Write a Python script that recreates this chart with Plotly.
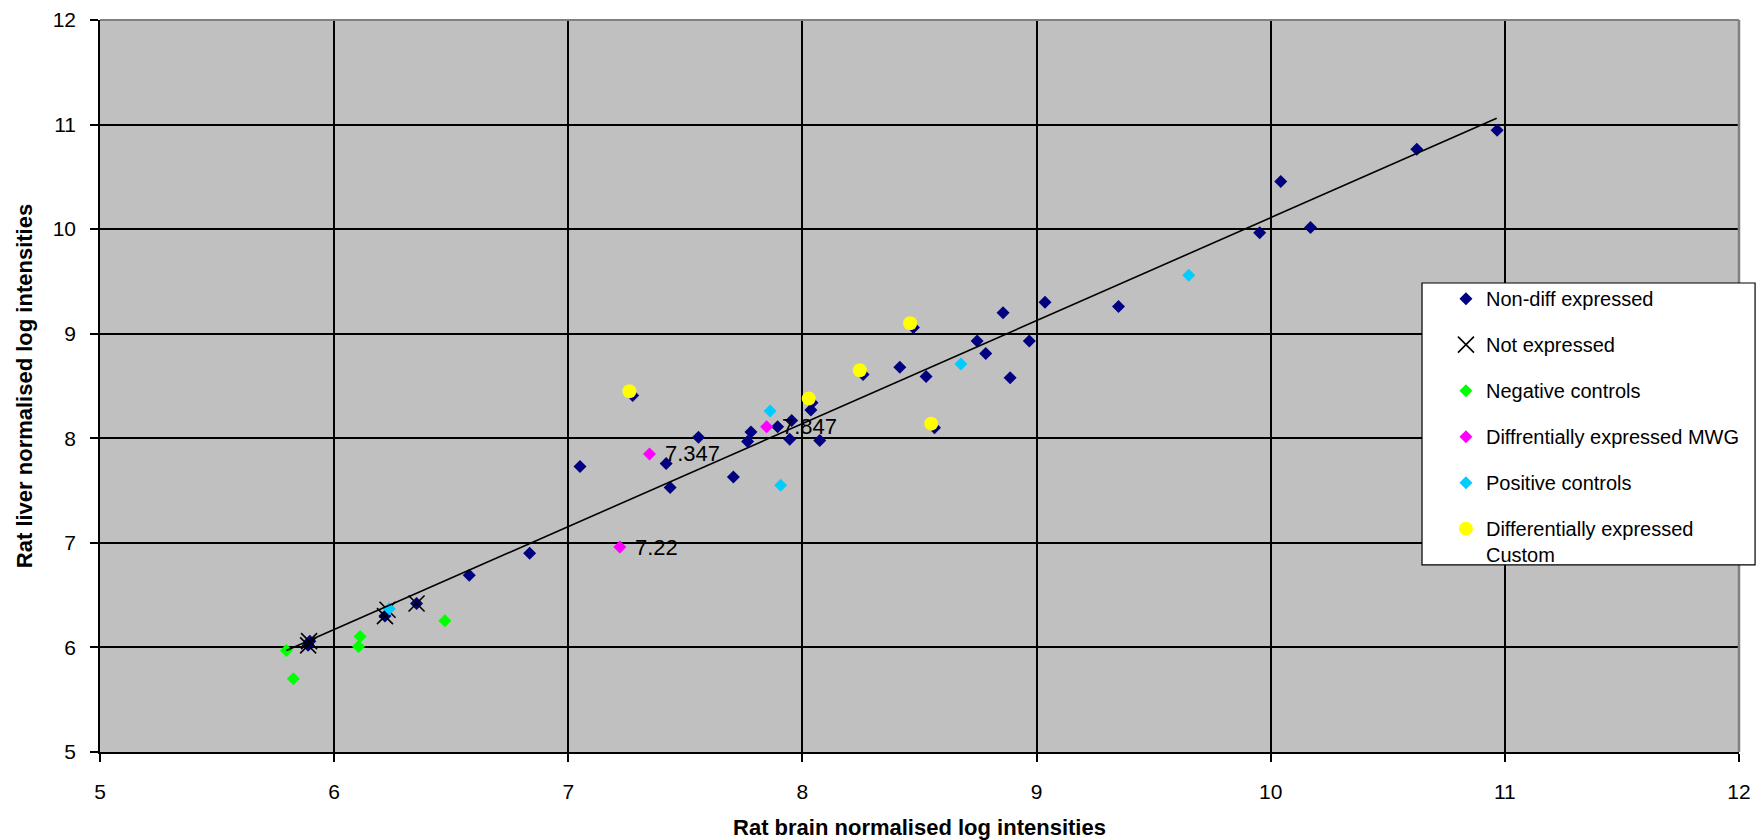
import plotly.graph_objects as go

# Rat brain (x) vs rat liver (y) normalised log intensities, one list pair per probe group
nondiff_x = [5.896, 5.889, 6.217, 6.352, 6.577, 6.835, 7.050, 7.275, 7.418, 7.435, 7.556,
             7.705, 7.766, 7.780, 7.894, 7.954, 7.946, 8.036, 8.041, 8.074, 8.259, 8.416,
             8.474, 8.528, 8.564, 8.746, 8.783, 8.857, 8.887, 8.969, 9.036, 9.350, 9.953,
             10.043, 10.170, 10.624, 10.967]
nondiff_y = [6.06, 6.02, 6.30, 6.42, 6.69, 6.90, 7.73, 8.41, 7.76, 7.53, 8.01,
             7.63, 7.97, 8.06, 8.11, 8.17, 7.99, 8.27, 8.34, 7.98, 8.61, 8.68,
             9.06, 8.59, 8.10, 8.93, 8.81, 9.20, 8.58, 8.93, 9.30, 9.26, 9.965,
             10.455, 10.016, 10.764, 10.946]

notexp_x = [5.893, 5.889, 6.217, 6.228, 6.352]
notexp_y = [6.06, 6.02, 6.30, 6.36, 6.42]

negctrl_x = [5.796, 5.826, 6.111, 6.104, 6.473]
negctrl_y = [5.97, 5.70, 6.105, 6.01, 6.255]

mwg_x = [7.347, 7.847, 7.22]
mwg_y = [7.85, 8.11, 6.96]

posctrl_x = [6.235, 7.862, 7.907, 8.677, 9.650]
posctrl_y = [6.37, 8.26, 7.55, 8.71, 9.56]

custom_x = [7.261, 8.027, 8.245, 8.460, 8.550]
custom_y = [8.45, 8.38, 8.65, 9.10, 8.14]

# linear trend through the data
trend_x = [5.796, 10.965]
trend_y = [5.97, 11.06]

axis_ticks = [5, 6, 7, 8, 9, 10, 11, 12]

FONT = "Arial, 'Liberation Sans', sans-serif"

fig = go.Figure()

diamond = dict(symbol="diamond", size=10, line=dict(width=0))

fig.add_trace(go.Scatter(x=nondiff_x, y=nondiff_y, mode="markers", name="Non-diff expressed",
                         legendgroup="a", marker=dict(color="#000080", **diamond)))
fig.add_trace(go.Scatter(x=notexp_x, y=notexp_y, mode="markers", name="Not expressed",
                         legendgroup="b",
                         marker=dict(symbol="x-thin", size=16, color="black",
                                     line=dict(color="black", width=1.6))))
fig.add_trace(go.Scatter(x=negctrl_x, y=negctrl_y, mode="markers", name="Negative controls",
                         legendgroup="c", marker=dict(color="#00FF00", **diamond)))
fig.add_trace(go.Scatter(x=mwg_x, y=mwg_y, mode="markers", name="Diffrentially expressed MWG",
                         legendgroup="d", marker=dict(color="#FF00FF", **diamond)))
fig.add_trace(go.Scatter(x=posctrl_x, y=posctrl_y, mode="markers", name="Positive controls",
                         legendgroup="e", marker=dict(color="#00CCFF", **diamond)))
fig.add_trace(go.Scatter(x=custom_x, y=custom_y, mode="markers",
                         name="Differentially expressed<br>Custom",
                         legendgroup="f",
                         marker=dict(symbol="circle", size=14, color="#FFFF00", line=dict(width=0))))
fig.add_trace(go.Scatter(x=trend_x, y=trend_y, mode="lines", showlegend=False,
                         line=dict(color="black", width=1.6), hoverinfo="skip"))

# value labels beside the MWG points
for xv, yv in zip(mwg_x, mwg_y):
    fig.add_annotation(x=xv, y=yv, text=f"{xv:g}", showarrow=False, xanchor="left",
                       yanchor="middle", xshift=13, font=dict(family=FONT, size=22, color="black"))

axis_common = dict(
    range=[5, 12], tickvals=axis_ticks, ticktext=[str(t) for t in axis_ticks],
    showgrid=True, gridcolor="black", gridwidth=1.5,
    showline=True, linecolor="black", linewidth=1.5,
    ticks="outside", ticklen=8, tickwidth=1.5, tickcolor="black",
    tickfont=dict(family=FONT, size=21, color="black"),
    zeroline=False, fixedrange=True, automargin=False,
)

fig.update_xaxes(**axis_common, ticklabelstandoff=12,
                 title=dict(text="<b>Rat brain normalised log intensities</b>", standoff=20,
                            font=dict(family=FONT, size=22, color="black")))
fig.update_yaxes(**axis_common, ticklabelstandoff=10,
                 title=dict(text="<b>Rat liver normalised log intensities</b>", standoff=14,
                            font=dict(family=FONT, size=22, color="black")))

# plot-area frame (top and right edges) and legend box
fig.add_shape(type="line", xref="paper", yref="paper", x0=0, x1=1, y0=1, y1=1,
              line=dict(color="#808080", width=2), layer="above")
fig.add_shape(type="line", xref="paper", yref="paper", x0=1, x1=1, y0=0, y1=1,
              line=dict(color="#808080", width=2.5), layer="above")
fig.add_shape(type="rect", xref="paper", yref="paper", x0=0.8066, x1=1.0098, y0=0.2555, y1=0.6407,
              fillcolor="white", line=dict(color="black", width=1.2), layer="above")

fig.update_layout(
    width=1758, height=840,
    margin=dict(l=100, r=19, t=20, b=88),
    plot_bgcolor="#C0C0C0", paper_bgcolor="white",
    font=dict(family=FONT, size=20, color="black"),
    legend=dict(x=0.8212, y=0.646, xanchor="left", yanchor="top",
                bgcolor="rgba(0,0,0,0)", borderwidth=0,
                font=dict(family=FONT, size=20, color="black"),
                tracegroupgap=17, valign="top", itemwidth=30),
    showlegend=True,
)

fig.write_html("out.html")
